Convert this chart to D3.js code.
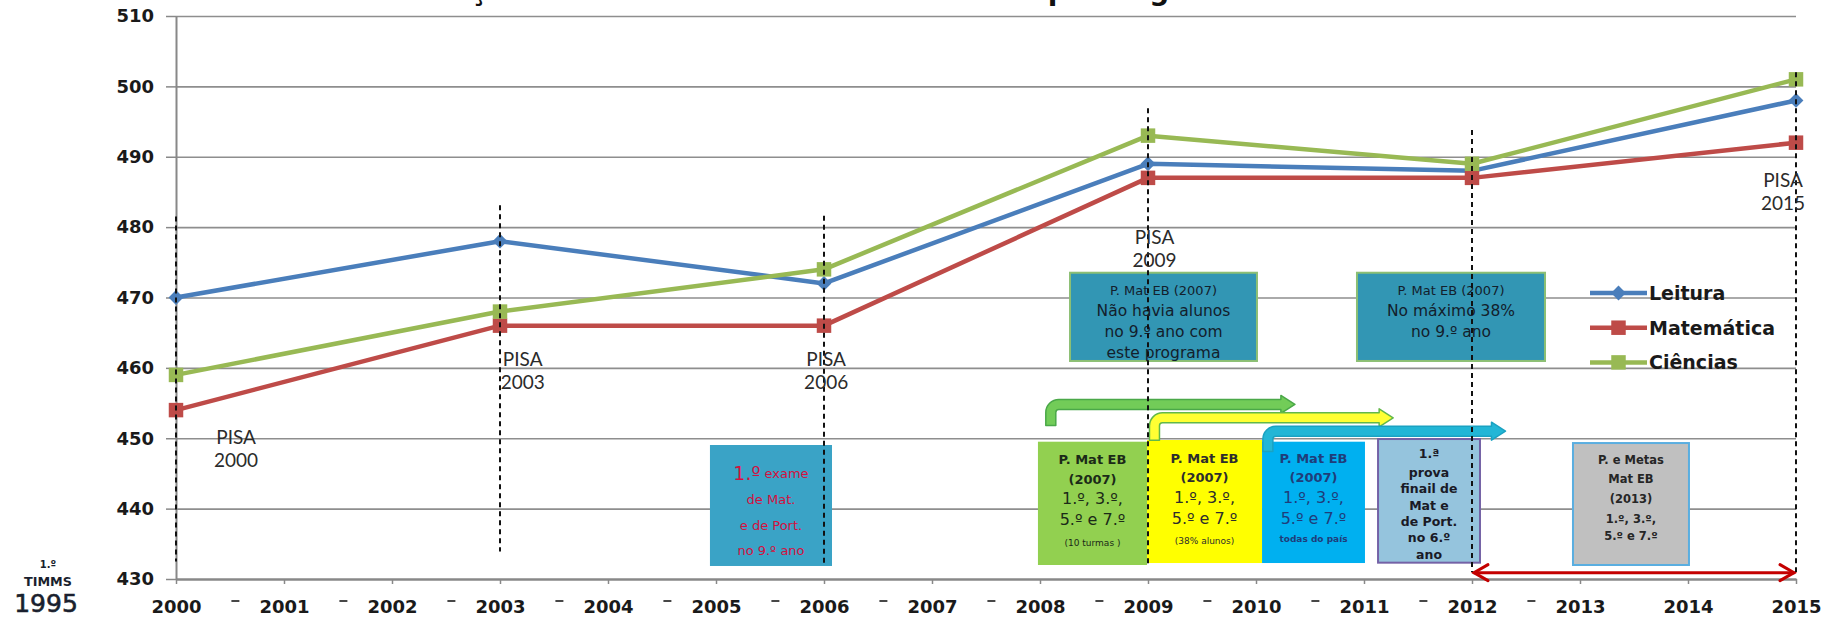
<!DOCTYPE html>
<html>
<head>
<meta charset="utf-8">
<script src="https://cdn.jsdelivr.net/npm/d3@7"></script>
<style>
  body { margin: 0; background: #fff; }
  svg { display: block; }
</style>
</head>
<body>
<div id="chart"></div>
<script>
// ---- data ----
const years = [2000, 2003, 2006, 2009, 2012, 2015];
const leitura = [470, 478, 472, 489, 488, 498];
const matematica = [454, 466, 466, 487, 487, 492];
const ciencias = [459, 468, 474, 493, 489, 501];
const seriesNames = ["Leitura", "Matemática", "Ciências"];
const yTicks = [430, 440, 450, 460, 470, 480, 490, 500, 510];
const xYears = d3.range(2000, 2016);
const title = "Evolução dos resultados dos alunos portugueses no PISA";

// PISA cycles: dashed marker from / to (score units)
const pisaYears = [2000, 2003, 2006, 2009, 2012, 2015];
const pisaTop = [481.5, 483.1, 481.6, 496.9, 493.8, 502];
const pisaBottom = [432.5, 433.9, 432.3, 432, 431, 431];
const pisaLabelNames = ["PISA 2000", "PISA 2003", "PISA 2006", "PISA 2009", "", "PISA 2015"];

// annotation texts
const noteTop1 = ["P. Mat EB (2007)", "Não havia alunos", "no 9.º ano com", "este programa"];
const noteTop2 = ["P. Mat EB (2007)", "No máximo 38%", "no 9.º ano"];
const noteExame = ["1.º exame", "de Mat.", "e de Port.", "no 9.º ano"];
const noteVerde = ["P. Mat EB", "(2007)", "1.º, 3.º,", "5.º e 7.º", "(10 turmas )"];
const noteAmarelo = ["P. Mat EB", "(2007)", "1.º, 3.º,", "5.º e 7.º", "(38% alunos)"];
const noteAzul = ["P. Mat EB", "(2007)", "1.º, 3.º,", "5.º e 7.º", "todas do país"];
const noteProva = ["1.ª", "prova", "finail de", "Mat e", "de Port.", "no 6.º", "ano"];
const noteMetas = ["P. e Metas", "Mat EB", "(2013)", "1.º, 3.º,", "5.º e 7.º"];

// ---- setup ----
const W = 1824, H = 617;
const svg = d3.select("#chart").append("svg")
    .attr("width", W)
    .attr("height", H);

const x = d3.scaleLinear().domain([2000, 2015]).range([176, 1796]);
const y = d3.scaleLinear().domain([430, 510]).range([579, 16]);

const colors = { "Leitura": "#4a7ebb", "Matemática": "#be4b48", "Ciências": "#98b954" };
const seriesData = [leitura, matematica, ciencias];

// Title (cut off at the top in the original)
svg.append("text")
    .attr("x", 900)
    .attr("y", 0)
    .attr("text-anchor", "middle")
    .attr("textLength", 1063)
    .style("font-family", "DejaVu Sans")
    .style("font-weight", "bold")
    .style("font-size", "28px")
    .style("fill", "#111")
    .text(title);

// Grid lines
const grid = svg.append("g")
    .attr("transform", `translate(${x(2000)},0)`)
    .call(d3.axisLeft(y).tickValues(yTicks.slice(1)).tickSize(-(x(2015) - x(2000))).tickFormat(""));
grid.select(".domain").remove();
grid.selectAll("line").attr("stroke", "#8e8e8e").attr("stroke-width", 1.6);

// Y axis
const gY = svg.append("g")
    .attr("transform", `translate(${x(2000)},0)`)
    .call(d3.axisLeft(y).tickValues(yTicks).tickSize(10).tickSizeOuter(0).tickPadding(12));
gY.select(".domain").attr("stroke", "#888").attr("stroke-width", 2);
gY.selectAll("line").attr("stroke", "#888").attr("stroke-width", 1.5);
gY.selectAll("text")
    .style("font-family", "DejaVu Sans")
    .style("font-weight", "bold")
    .style("font-size", "18px")
    .style("fill", "#1a1a1a");

// X axis
const gX = svg.append("g")
    .attr("transform", `translate(0,${y(430)})`)
    .call(d3.axisBottom(x).tickValues(xYears).tickFormat(d3.format("d"))
        .tickSize(5).tickSizeOuter(0).tickPadding(16));
gX.select(".domain").attr("stroke", "#888").attr("stroke-width", 2.5);
gX.selectAll("line").attr("stroke", "#888").attr("stroke-width", 1.5);
gX.selectAll("text")
    .style("font-family", "DejaVu Sans")
    .style("font-weight", "bold")
    .style("font-size", "18px")
    .style("fill", "#1a1a1a");

// little dashes between year labels
svg.append("g").selectAll("line")
    .data(d3.range(2000.55, 2013, 1))
    .enter().append("line")
    .attr("x1", d => x(d) - 4)
    .attr("x2", d => x(d) + 4)
    .attr("y1", 601)
    .attr("y2", 601)
    .attr("stroke", "#333")
    .attr("stroke-width", 1.8);

// 1.º TIMMS 1995
const timms = svg.append("g").style("fill", "#1a1f2e").attr("text-anchor", "middle");
timms.append("text").attr("x", 48).attr("y", 568)
    .style("font-family", "DejaVu Sans").style("font-weight", "bold").style("font-size", "10px")
    .text("1.º");
timms.append("text").attr("x", 48).attr("y", 586)
    .attr("textLength", 48).attr("lengthAdjust", "spacingAndGlyphs")
    .style("font-family", "DejaVu Sans").style("font-weight", "bold").style("font-size", "12px")
    .text("TIMMS");
timms.append("text").attr("x", 46).attr("y", 612)
    .style("font-family", "DejaVu Sans").style("font-size", "25px")
    .style("stroke", "#1a1f2e").style("stroke-width", 0.6)
    .text("1995");

// ---- annotation boxes ----
const boxes = [
    { lines: noteTop1, x0: 2008.278, x1: 2010.009, v0: 473.52, v1: 460.98, fill: "#3296b4", stroke: "#8cbf74", sw: 2,
      color: "#13202c", rows: [[17.3, 13, "normal"], [38, 15.5, "normal"], [59, 15.5, "normal"], [80.3, 15.5, "normal"]] },
    { lines: noteTop2, x0: 2010.935, x1: 2012.676, v0: 473.52, v1: 460.98, fill: "#3296b4", stroke: "#8cbf74", sw: 2,
      color: "#13202c", rows: [[17.3, 13, "normal"], [38.3, 15.5, "normal"], [59.3, 15.5, "normal"]] },
    { lines: noteExame, x0: 2004.944, x1: 2006.074, v0: 449.04, v1: 431.85, fill: "#3aa3c6", stroke: "none", sw: 0,
      color: "#d4103e", rows: [[27.7, 13, "normal"], [54, 13, "normal"], [80, 13, "normal"], [105, 13, "normal"]] },
    { lines: noteVerde, x0: 2007.981, x1: 2008.991, v0: 449.51, v1: 431.99, fill: "#92d050", stroke: "none", sw: 0,
      color: "#1b2a18", rows: [[18.3, 13, "bold"], [37.6, 13, "bold"], [56.6, 16, "normal"], [78.3, 16, "normal"], [101.6, 9, "normal"]] },
    { lines: noteAmarelo, x0: 2008.991, x1: 2010.056, v0: 449.75, v1: 432.27, fill: "#ffff00", stroke: "none", sw: 0,
      color: "#2d2d2d", rows: [[18.3, 13, "bold"], [37.7, 13, "bold"], [57.3, 16, "normal"], [78.3, 16, "normal"], [101, 9, "normal"]] },
    { lines: noteAzul, x0: 2010.056, x1: 2011.009, v0: 449.51, v1: 432.27, fill: "#00b0f0", stroke: "none", sw: 0,
      color: "#1f3d7a", rows: [[16.6, 13, "bold"], [36, 13, "bold"], [55.6, 16, "normal"], [76.6, 16, "normal"], [97.6, 9, "bold"]] },
    { lines: noteProva, x0: 2011.13, x1: 2012.074, v0: 449.89, v1: 432.32, fill: "#95c4dd", stroke: "#7462a6", sw: 2,
      color: "#1a1a26", rows: [[14, 12.5, "bold"], [33.7, 12.5, "bold"], [49.7, 12.5, "bold"], [66, 12.5, "bold"], [82, 12.5, "bold"], [98, 12.5, "bold"], [115, 12.5, "bold"]] },
    { lines: noteMetas, x0: 2012.935, x1: 2014.009, v0: 449.32, v1: 431.99, fill: "#c0c0c0", stroke: "#5aaee0", sw: 2,
      color: "#262626", rows: [[17, 11.5, "bold"], [36, 11.5, "bold"], [56, 11.5, "bold"], [76, 11.5, "bold"], [93, 11.5, "bold"]] }
];

const boxG = svg.append("g");
boxes.forEach(b => {
    const bx = x(b.x0), by = y(b.v0);
    const bw = x(b.x1) - x(b.x0), bh = y(b.v1) - y(b.v0);
    boxG.append("rect")
        .attr("x", bx).attr("y", by)
        .attr("width", bw).attr("height", bh)
        .attr("fill", b.fill)
        .attr("stroke", b.stroke)
        .attr("stroke-width", b.sw);
    b.lines.forEach((line, i) => {
        const r = b.rows[i];
        const t = boxG.append("text")
            .attr("x", bx + bw / 2)
            .attr("y", by + r[0])
            .attr("dominant-baseline", "central")
            .attr("text-anchor", "middle")
            .style("font-family", "DejaVu Sans")
            .style("font-size", r[1] + "px")
            .style("font-weight", r[2])
            .style("fill", b.color);
        if (line === "1.º exame") {
            t.append("tspan").style("font-size", "19px").text("1.º");
            t.append("tspan").text(" exame");
        } else {
            t.text(line);
        }
    });
});

// ---- bent arrows ----
const arrows = [
    { xs: 2008.1, vb: 451.8, vh: 454.8, xt: 2010.36, fill: "#72cc58", stroke: "#4aa848" },
    { xs: 2009.06, vb: 449.7, vh: 452.9, xt: 2011.27, fill: "#ffff33", stroke: "#62b84a" },
    { xs: 2010.11, vb: 448.1, vh: 451.0, xt: 2012.31, fill: "#22b6d6", stroke: "#1aa2c2" }
];

function bentArrow(cx, yb, cy, xt) {
    const t = 5, R = 13, rin = 3, hl = 14, hh = 9;
    return `M${cx - t},${yb} L${cx - t},${cy - t + R} A${R},${R} 0 0 1 ${cx - t + R},${cy - t} ` +
        `L${xt - hl},${cy - t} L${xt - hl},${cy - hh} L${xt},${cy} L${xt - hl},${cy + hh} L${xt - hl},${cy + t} ` +
        `L${cx + t + rin},${cy + t} A${rin},${rin} 0 0 0 ${cx + t},${cy + t + rin} L${cx + t},${yb} Z`;
}

svg.append("g").selectAll("path")
    .data(arrows)
    .enter().append("path")
    .attr("d", d => bentArrow(x(d.xs), y(d.vb), y(d.vh), x(d.xt)))
    .attr("fill", d => d.fill)
    .attr("stroke", d => d.stroke)
    .attr("stroke-width", 1.5)
    .attr("stroke-linejoin", "round");

// red double arrow 2012 - 2015
const redY = y(430.9);
const redG = svg.append("g").attr("stroke", "#c40000").attr("fill", "none")
    .attr("stroke-width", 3).attr("stroke-linecap", "round");
redG.append("line").attr("x1", x(2012) + 2).attr("x2", x(2015) - 2).attr("y1", redY).attr("y2", redY);
redG.append("path").attr("d", `M${x(2012) + 16},${redY - 8} L${x(2012) + 2},${redY} L${x(2012) + 16},${redY + 8}`);
redG.append("path").attr("d", `M${x(2015) - 16},${redY - 8} L${x(2015) - 2},${redY} L${x(2015) - 16},${redY + 8}`);

// ---- series lines and markers ----
const line = d3.line()
    .x((d, i) => x(years[i]))
    .y(d => y(d));

seriesNames.forEach((name, s) => {
    svg.append("path")
        .datum(seriesData[s])
        .attr("d", line)
        .attr("fill", "none")
        .attr("stroke", colors[name])
        .attr("stroke-width", 4.5)
        .attr("stroke-linejoin", "round");
});

const diamond = d3.symbol().type(d3.symbolSquare).size(110);
const square = d3.symbol().type(d3.symbolSquare).size(210);

seriesNames.forEach((name, s) => {
    svg.append("g").selectAll("path")
        .data(seriesData[s])
        .enter().append("path")
        .attr("d", s === 0 ? diamond : square)
        .attr("transform", (d, i) => `translate(${x(years[i])},${y(d)})` + (s === 0 ? " rotate(45)" : ""))
        .attr("fill", colors[name]);
});

// ---- PISA dashed markers ----
svg.append("g").selectAll("line")
    .data(pisaYears)
    .enter().append("line")
    .attr("x1", d => x(d))
    .attr("x2", d => x(d))
    .attr("y1", (d, i) => y(pisaTop[i]))
    .attr("y2", (d, i) => y(pisaBottom[i]))
    .attr("stroke", "#111")
    .attr("stroke-width", 2)
    .attr("stroke-dasharray", "5,4");

// PISA labels
const pisaLabelPos = [
    { year: 2000.556, v: 449.2 },
    { year: 2003.21, v: 460.27 },
    { year: 2006.02, v: 460.27 },
    { year: 2009.06, v: 477.6 },
    null,
    { year: 2014.88, v: 485.7 }
];
pisaLabelNames.forEach((name, i) => {
    if (!name) return;
    const p = pisaLabelPos[i];
    const parts = name.split(" ");
    const t = svg.append("text")
        .attr("text-anchor", "middle")
        .style("font-family", "Lato")
        .style("font-size", "19px")
        .style("fill", "#2b2b2b");
    t.append("tspan").attr("x", x(p.year)).attr("y", y(p.v)).text(parts[0]);
    t.append("tspan").attr("x", x(p.year)).attr("y", y(p.v) + 23).text(parts[1]);
});

// ---- legend ----
const legend = svg.append("g").attr("transform", "translate(1590,293)");
seriesNames.forEach((name, i) => {
    const g = legend.append("g").attr("transform", `translate(0,${i * 34.7})`);
    g.append("line")
        .attr("x1", 0).attr("x2", 57)
        .attr("stroke", colors[name])
        .attr("stroke-width", 4.5);
    g.append("path")
        .attr("d", i === 0 ? diamond : square)
        .attr("transform", "translate(28.5,0)" + (i === 0 ? " rotate(45)" : ""))
        .attr("fill", colors[name]);
    g.append("text")
        .attr("x", 59)
        .attr("dominant-baseline", "central")
        .style("font-family", "DejaVu Sans")
        .style("font-weight", "bold")
        .style("font-size", "19px")
        .style("fill", "#1a1a1a")
        .text(name);
});
</script>
</body>
</html>
